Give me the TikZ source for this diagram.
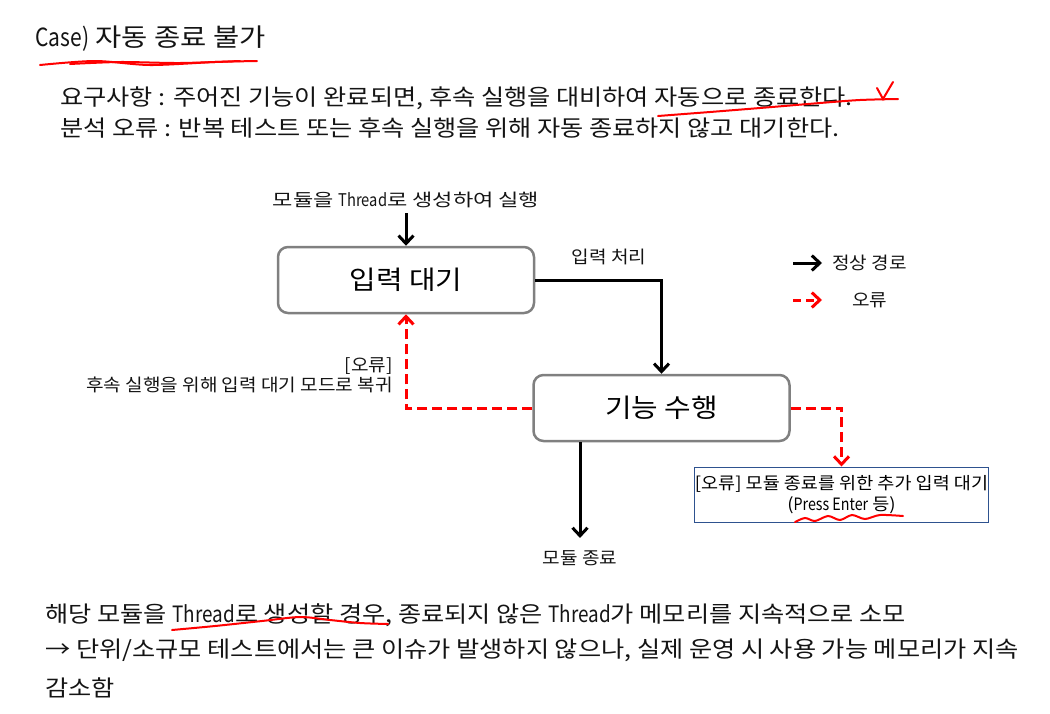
\documentclass[tikz,border=0pt]{standalone}
\usepackage{fontspec}
\setmainfont{Noto Sans CJK KR}
\newfontfamily\titlefont[FakeStretch=1.14]{Noto Sans CJK KR}
\newfontfamily\bodyfont[FakeStretch=1.12]{Noto Sans CJK KR}
\newfontfamily\boxfont[FakeStretch=1.11]{Noto Sans CJK KR}
\newfontfamily\smallfont[FakeStretch=1.09]{Noto Sans CJK KR}
\newfontfamily\startfont[FakeStretch=1.26]{Noto Sans CJK KR}
\newfontfamily\narrowfont[FakeStretch=0.84]{Noto Sans CJK KR}
\usepackage{tikz}
\usetikzlibrary{
	arrows.meta,
	positioning,
}
\definecolor{boxgray}{rgb}{0.50, 0.50, 0.50}
\definecolor{noteblue}{rgb}{0.18, 0.32, 0.56}
\definecolor{errred}{rgb}{1.0, 0.0, 0.0}
\definecolor{inkblack}{rgb}{0.08, 0.08, 0.08}

\begin{document}
\begin{tikzpicture}[x=1pt, y=-1pt, thick,
	titletext/.style={font=\titlefont\fontsize{25}{30}\selectfont, inner sep=0pt, text height=19pt, text depth=0pt, anchor=west, text=inkblack},
	bodytext/.style={font=\bodyfont\fontsize{22.5}{27}\selectfont, inner sep=0pt, text height=17.1pt, text depth=0pt, anchor=west, text=inkblack},
	smalltext/.style={font=\smallfont\fontsize{17.5}{21}\selectfont, inner sep=0pt, text height=13.3pt, text depth=0pt, text=inkblack},
	state/.style={draw=boxgray, line width=2.5pt, rounded corners=10pt, minimum width=256pt, minimum height=66pt, inner sep=0pt, font=\boxfont\fontsize{26}{30}\selectfont, text height=19.8pt, text depth=0pt},
	note/.style={draw=noteblue, line width=1pt, minimum width=294pt, minimum height=55pt, inner sep=0pt, align=center, font=\smallfont\fontsize{17}{21.5}\selectfont},
	okpath/.style={line width=3pt, -{Straight Barb[length=8pt, width=15pt, line width=3pt]}},
	errpath/.style={errred, line width=3pt, dash pattern=on 10pt off 5pt, -{Straight Barb[length=8pt, width=15pt, line width=3pt]}},
	scribble/.style={errred, line width=2pt, line cap=round},
]
\useasboundingbox (0,0) rectangle (1050,713);

% header
\node[titletext] (title) at (35,37) {{\narrowfont Case)} 자동 종료 불가};
\node[bodytext] (require) at (60,97) {요구사항 : 주어진 기능이 완료되면, 후속 실행을 대비하여 자동으로 종료한다.};
\node[bodytext] (analysis) at (60,128) {분석 오류 : 반복 테스트 또는 후속 실행을 위해 자동 종료하지 않고 대기한다.};

% states
\node[smalltext, font=\startfont\fontsize{17.5}{21}\selectfont] (start) at (406,200) {모듈을 {\narrowfont Thread}로 생성하여 실행};
\node[state] (wait) at (406,280) {입력 대기};
\node[state] (run) at (661.5,408) {기능 수행};
\node[note] (hang) at (841.5,494.5) {[오류] 모듈 종료를 위한 추가 입력 대기\\({\narrowfont Press Enter} 등)};
\node[smalltext] (done) at (580,558) {모듈 종료};

% labels
\node[smalltext] (proclabel) at (609,257) {입력 처리};
\node[smalltext, anchor=east] (backlabel) at (393,365) {[오류]};
\node[smalltext, anchor=east] (backtext) at (393,385) {후속 실행을 위해 입력 대기 모드로 복귀};

% paths
\draw[okpath] (start.south) -- (wait.north) [shorten <=6pt];
\draw[okpath] (wait.east) -| (run.north);
\draw[errpath] (run.west) -| (wait.south);
\draw[errpath] (run.east) -| (hang.north);
\draw[okpath, shorten >=13pt] (run.south -| done.north) -- (done.north);

% legend
\coordinate (okfrom) at (793,263);
\coordinate (errfrom) at (793,300);
\node[smalltext, anchor=west] (oklabel) at (832,263) {정상 경로};
\node[smalltext, anchor=west] (errlabel) at (852,300) {오류};
\draw[okpath, shorten >=10pt] (okfrom) -- (oklabel.west);
\draw[errpath, dash pattern=on 8pt off 5pt, shorten >=30pt] (errfrom) -- (errlabel.west);

% conclusion
\node[bodytext] (conc1) at (45,614) {해당 모듈을 {\narrowfont Thread}로 생성할 경우, 종료되지 않은 {\narrowfont Thread}가 메모리를 지속적으로 소모};
\node[bodytext] (conc2) at (45,649) {→ 단위/소규모 테스트에서는 큰 이슈가 발생하지 않으나, 실제 운영 시 사용 가능 메모리가 지속};
\node[bodytext] (conc3) at (45,687.5) {감소함};

% red pen marks
\draw[scribble] plot[smooth] coordinates {(40,65) (95,61) (150,65) (215,62) (257,61)};
\draw[scribble] plot[smooth] coordinates {(70,64) (120,62) (180,63) (240,61)};
\draw[scribble] plot[smooth] coordinates {(658,116) (710,112) (760,108) (820,103) (860,100) (898,99)};
\draw[scribble] plot coordinates {(877,88) (883,99) (893,82)};
\draw[scribble] plot[smooth] coordinates {(795,522) (805,518) (815,521) (828,516) (840,520) (852,515) (865,519) (880,515) (903,516)};
\draw[scribble] plot[smooth] coordinates {(172,630) (215,626) (262,621) (300,617) (330,620) (360,623) (388,624)};
\end{tikzpicture}
\end{document}
